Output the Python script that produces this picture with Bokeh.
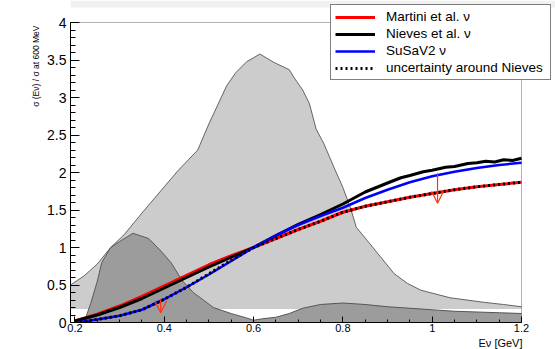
from bokeh.plotting import figure
from bokeh.models import (Range1d, FixedTicker, Legend, LegendItem, Arrow, OpenHead,
                          ColumnDataSource, BoxAnnotation, Title)
from bokeh.embed import file_html
from bokeh.resources import INLINE

# ---------------- data ----------------
energy = [0.20, 0.25, 0.30, 0.35, 0.40, 0.45, 0.50, 0.55, 0.60, 0.65, 0.70,
          0.75, 0.80, 0.85, 0.90, 0.95, 1.00, 1.05, 1.10, 1.15, 1.20]
martini = [0.02, 0.11, 0.22, 0.35, 0.49, 0.63, 0.77, 0.89, 1.00, 1.12, 1.24,
           1.35, 1.47, 1.55, 1.61, 1.67, 1.72, 1.77, 1.81, 1.84, 1.87]
nieves_e = [0.20, 0.25, 0.30, 0.35, 0.40, 0.45, 0.50, 0.55, 0.60, 0.65, 0.70,
            0.75, 0.80, 0.85, 0.90, 0.93, 0.95, 0.98, 1.00, 1.03, 1.05, 1.08,
            1.10, 1.12, 1.14, 1.16, 1.18, 1.20]
nieves = [0.02, 0.10, 0.20, 0.32, 0.46, 0.60, 0.74, 0.87, 1.00, 1.16, 1.31,
          1.44, 1.58, 1.74, 1.86, 1.93, 1.96, 2.01, 2.03, 2.07, 2.08, 2.12,
          2.13, 2.15, 2.14, 2.17, 2.16, 2.19]
susav2 = [0.00, 0.04, 0.09, 0.17, 0.31, 0.47, 0.64, 0.82, 1.00, 1.16, 1.30,
          1.42, 1.53, 1.66, 1.77, 1.87, 1.95, 2.01, 2.06, 2.10, 2.13]
nieves_unc = [0.00, 0.04, 0.09, 0.17, 0.31, 0.47, 0.65, 0.83, 1.00, 1.12, 1.24,
              1.35, 1.47, 1.55, 1.61, 1.67, 1.72, 1.77, 1.81, 1.84, 1.87]

# broad flux (light gray)
flux_a_e = [0.19, 0.22, 0.25, 0.28, 0.31, 0.35, 0.39, 0.43, 0.475, 0.50, 0.54, 0.56,
            0.585, 0.60, 0.614, 0.645, 0.68, 0.69, 0.71, 0.725, 0.74, 0.757, 0.78,
            0.80, 0.817, 0.83, 0.855, 0.885, 0.915, 0.945, 0.975, 1.04, 1.115, 1.16, 1.20]
flux_a = [0.50, 0.62, 0.78, 1.00, 1.17, 1.46, 1.74, 2.02, 2.30, 2.65, 3.16, 3.33,
          3.48, 3.53, 3.58, 3.47, 3.37, 3.27, 3.10, 2.92, 2.58, 2.39, 2.07,
          1.80, 1.53, 1.27, 1.09, 0.87, 0.65, 0.52, 0.43, 0.33, 0.27, 0.24, 0.21]
flux_a_floor = 0.18

# low-energy flux (dark gray)
flux_b_e = [0.22, 0.235, 0.25, 0.26, 0.28, 0.30, 0.33, 0.345, 0.365, 0.39, 0.415,
            0.44, 0.465, 0.51, 0.55, 0.585, 0.60]
flux_b = [0.00, 0.25, 0.55, 0.80, 1.00, 1.08, 1.19, 1.16, 1.12, 0.97, 0.80,
          0.56, 0.40, 0.20, 0.12, 0.06, 0.03]

# high-energy flux (dark gray)
flux_c_e = [0.60, 0.62, 0.65, 0.68, 0.71, 0.75, 0.80, 0.85, 0.90, 0.95, 1.00,
            1.05, 1.10, 1.15, 1.20]
flux_c = [0.03, 0.05, 0.07, 0.12, 0.19, 0.24, 0.26, 0.24, 0.21, 0.19, 0.17,
          0.15, 0.14, 0.13, 0.12]

arrow_x = [0.392, 1.012]
arrow_top = [0.31, 1.99]
arrow_tip = [0.13, 1.59]

x_ticks = [0.2, 0.4, 0.6, 0.8, 1.0, 1.2]
x_tick_labels = ["0.2", "0.4", "0.6", "0.8", "1", "1.2"]
y_ticks = [0, 0.5, 1, 1.5, 2, 2.5, 3, 3.5, 4]
y_tick_labels = ["0", "0.5", "1", "1.5", "2", "2.5", "3", "3.5", "4"]

# ---------------- figure geometry ----------------
XMIN, XMAX, YMIN, YMAX = 0.19, 1.2, 0.0, 4.0
W, H = 555, 349
BOX_L, BOX_R, BOX_T, BOX_B = 70, 521, 22, 322   # pixel box of the axes
sx = (BOX_R - BOX_L) / (XMAX - XMIN)
sy = (BOX_B - BOX_T) / (YMAX - YMIN)

p = figure(width=W, height=H, output_backend="svg", toolbar_location=None,
           x_range=Range1d(XMIN, XMAX + (W - BOX_R) / sx),
           y_range=Range1d(YMIN, YMAX + BOX_T / sy),
           min_border_left=BOX_L, min_border_right=0, min_border_top=0,
           min_border_bottom=H - BOX_B)
p.background_fill_color = "white"
p.border_fill_color = "white"
p.outline_line_color = None
p.xgrid.visible = False
p.ygrid.visible = False

FONT = "Liberation Sans"

p.xaxis.ticker = FixedTicker(ticks=x_ticks,
                             minor_ticks=[round(0.2 + 0.05 * i, 2) for i in range(21)])
p.xaxis.major_label_overrides = dict(zip(x_ticks, x_tick_labels))
p.yaxis.ticker = FixedTicker(ticks=y_ticks,
                             minor_ticks=[round(0.1 * i, 1) for i in range(41)])
p.yaxis.major_label_overrides = dict(zip(y_ticks, y_tick_labels))
p.xaxis.bounds = (XMIN, XMAX)
p.yaxis.bounds = (YMIN, YMAX)

for ax in (p.xaxis, p.yaxis):
    ax.axis_line_color = "black"
    ax.major_tick_line_color = "black"
    ax.minor_tick_line_color = "black"
    ax.major_tick_out = 0
    ax.minor_tick_out = 0
    ax.major_label_text_font = FONT
    ax.major_label_text_color = "black"
p.xaxis.major_tick_in = 6
p.xaxis.minor_tick_in = 3
p.yaxis.major_tick_in = 9
p.yaxis.minor_tick_in = 5
p.xaxis.major_label_text_font_size = "11px"
p.xaxis.major_label_standoff = 1
p.yaxis.major_label_text_font_size = "14px"
p.yaxis.major_label_standoff = 4

# axis titles (as titles, aligned to the ends of the axes box)
x_title = Title(text="Eν [GeV]", align="right", offset=W - BOX_R - 1,
                text_font=FONT, text_font_size="11px", text_font_style="normal",
                text_color="black", standoff=0)
p.add_layout(x_title, "below")
y_title = Title(text="σ (Eν) / σ at 600 MeV", align="right", offset=BOX_T + 3,
                text_font=FONT, text_font_size="8.5px", text_font_style="normal",
                text_color="black", standoff=8)
p.add_layout(y_title, "left")

# faint band at the very top of the picture
p.add_layout(BoxAnnotation(bottom=YMAX + (BOX_T - 7) / sy, fill_color="#f1f1f1",
                           fill_alpha=1, line_color=None, level="underlay"))

# ---------------- fluxes ----------------
p.varea(x=flux_a_e, y1=[flux_a_floor] * len(flux_a_e), y2=flux_a, fill_color="#cccccc")
p.line(flux_a_e, flux_a, line_color="#444444", line_width=0.8)
p.varea(x=flux_b_e, y1=[0] * len(flux_b_e), y2=flux_b, fill_color="#9c9c9c")
p.line(flux_b_e, flux_b, line_color="#444444", line_width=0.8)
p.varea(x=flux_c_e, y1=[0] * len(flux_c_e), y2=flux_c, fill_color="#9c9c9c")
p.line(flux_c_e, flux_c, line_color="#555555", line_width=1)

# ---------------- curves ----------------
r_martini = p.line(energy, martini, line_color="#ff0000", line_width=3, line_join="round")
r_nieves = p.line(nieves_e, nieves, line_color="black", line_width=3, line_join="round")
r_susa = p.line(energy, susav2, line_color="#0000ff", line_width=2.5, line_join="round")
r_unc = p.line(energy, nieves_unc, line_color="black", line_width=3, line_dash="2 3")

arrows = ColumnDataSource(dict(x=arrow_x, y0=arrow_top, y1=arrow_tip))
p.add_layout(Arrow(end=OpenHead(size=12, line_color="#ff3311", line_width=1.2),
                   x_start="x", y_start="y0", x_end="x", y_end="y1", source=arrows,
                   line_color="#ff3311", line_width=1.2))

# axes box (top and right edges)
p.add_layout(BoxAnnotation(left=XMIN, right=XMAX, bottom=YMIN, top=YMAX,
                           fill_alpha=0, line_color="black", line_width=1))

# ---------------- legend ----------------
legend = Legend(items=[
    LegendItem(label="Martini et al. ν", renderers=[r_martini]),
    LegendItem(label="Nieves et al. ν", renderers=[r_nieves]),
    LegendItem(label="SuSaV2 ν", renderers=[r_susa]),
    LegendItem(label="uncertainty around Nieves", renderers=[r_unc]),
], location=(330 - BOX_L, BOX_B - 80))
legend.border_line_color = "black"
legend.border_line_width = 1
legend.background_fill_color = "white"
legend.background_fill_alpha = 1
legend.label_text_font = FONT
legend.label_text_font_size = "13.5px"
legend.label_text_color = "black"
legend.glyph_width = 40
legend.glyph_height = 12
legend.label_height = 12
legend.label_width = 160
legend.label_standoff = 11
legend.spacing = 2
legend.padding = 4
legend.margin = 0
p.add_layout(legend)

open("out.html", "w").write(file_html(p, INLINE))
